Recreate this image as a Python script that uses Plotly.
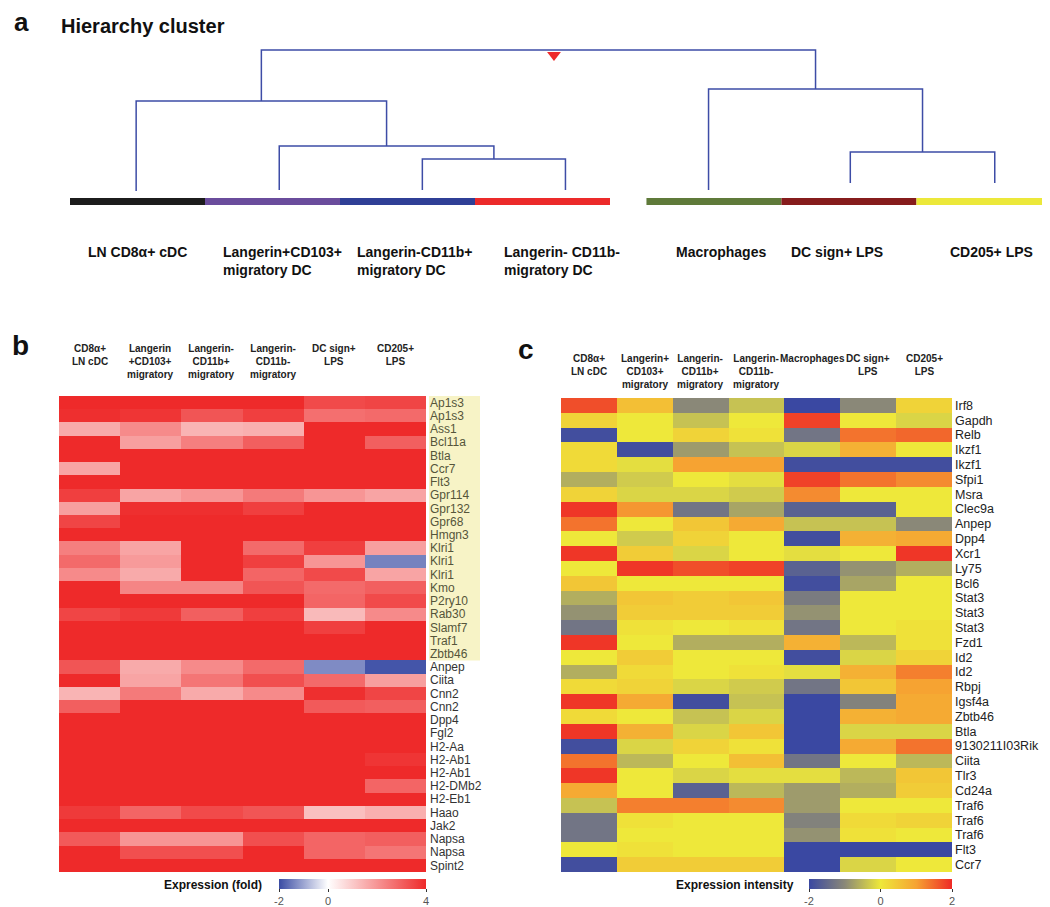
import plotly.graph_objects as go

W, H = 1050, 907
def fx(p):
    return p / W
def fy(p):
    return 1 - p / H

FONT = "Arial, Liberation Sans, sans-serif"

# ---------------- Panel a: hierarchy cluster ----------------
cell_types = ["LN CD8α+ cDC", "Langerin+CD103+ migratory DC", "Langerin-CD11b+ migratory DC",
              "Langerin- CD11b- migratory DC", "Macrophages", "DC sign+ LPS", "CD205+ LPS"]
leaf_pos = [0.49, 1.55, 2.61, 3.67, 4.73, 5.78, 6.85]
leaf_bottom = [1.05, 1.15, 1.15, 1.15, 1.15, 1.85, 1.85]
# (child a, child b, merge height); new nodes numbered from 7
merges = [(2, 3, 4.25), (1, 7, 5.55), (0, 8, 10.05), (5, 6, 4.95), (4, 10, 11.25), (9, 11, 15.15)]
bar_start = [0, 1, 2, 3, 4.27, 5.27, 6.27]
bar_width = 1.0
bar_colors = ["#1c1c1c", "#6a4c9c", "#2f3f96", "#ec2a2a", "#5f7a3a", "#861c1c", "#ece83a"]
cut_marker_x = [3.585]
cut_marker_h = [14.65]
a_label_text = ["LN CD8α+ cDC", "Langerin+CD103+<br>migratory DC", "Langerin-CD11b+<br>migratory DC",
                "Langerin- CD11b-<br>migratory DC", "Macrophages", "DC sign+ LPS", "CD205+ LPS"]
a_label_left_px = [78, 213, 347, 494, 666, 781, 940]

# ---------------- Panel b ----------------
b_columns = ["CD8α+<br>LN cDC", "Langerin<br>+CD103+<br>migratory", "Langerin-<br>CD11b+<br>migratory",
             "Langerin-<br>CD11b-<br>migratory", "DC sign+<br>LPS", "CD205+<br>LPS"]
b_genes = ["Ap1s3", "Ap1s3", "Ass1", "Bcl11a", "Btla", "Ccr7", "Flt3", "Gpr114", "Gpr132", "Gpr68",
           "Hmgn3", "Klri1", "Klri1", "Klri1", "Kmo", "P2ry10", "Rab30", "Slamf7", "Traf1", "Zbtb46",
           "Anpep", "Ciita", "Cnn2", "Cnn2", "Dpp4", "Fgl2", "H2-Aa", "H2-Ab1", "H2-Ab1", "H2-DMb2",
           "H2-Eb1", "Haao", "Jak2", "Napsa", "Napsa", "Spint2"]
b_highlighted = 20
b_values = [
    [4.0, 4.0, 4.0, 4.0, 3.4, 3.5],
    [3.9, 3.8, 3.2, 3.6, 2.7, 2.8],
    [1.6, 2.2, 1.4, 1.5, 4.0, 4.0],
    [4.0, 1.8, 2.4, 3.0, 4.0, 3.0],
    [4.0, 4.0, 4.0, 4.0, 4.0, 4.0],
    [1.7, 4.0, 4.0, 4.0, 4.0, 4.0],
    [4.0, 4.0, 4.0, 4.0, 4.0, 4.0],
    [3.6, 1.7, 2.0, 2.5, 2.0, 1.7],
    [1.8, 3.9, 3.9, 3.6, 4.0, 4.0],
    [3.5, 4.0, 4.0, 4.0, 4.0, 4.0],
    [4.0, 4.0, 4.0, 4.0, 4.0, 4.0],
    [2.4, 1.7, 4.0, 2.8, 3.6, 1.8],
    [2.8, 1.9, 4.0, 3.6, 2.0, -1.4],
    [2.2, 1.6, 4.0, 2.9, 3.4, 1.7],
    [4.0, 2.3, 2.3, 3.2, 2.8, 3.0],
    [4.0, 4.0, 4.0, 4.0, 2.9, 3.4],
    [3.5, 3.7, 3.0, 3.6, 1.3, 2.2],
    [4.0, 4.0, 4.0, 4.0, 3.6, 4.0],
    [4.0, 4.0, 4.0, 4.0, 4.0, 4.0],
    [4.0, 4.0, 4.0, 4.0, 4.0, 4.0],
    [3.2, 1.6, 2.2, 2.8, -1.3, -1.9],
    [4.0, 1.7, 2.6, 3.3, 2.8, 1.8],
    [1.4, 2.5, 1.6, 2.2, 3.9, 3.5],
    [3.0, 4.0, 4.0, 4.0, 3.1, 3.0],
    [4.0, 4.0, 4.0, 4.0, 4.0, 4.0],
    [4.0, 4.0, 4.0, 4.0, 4.0, 4.0],
    [4.0, 4.0, 4.0, 4.0, 4.0, 4.0],
    [4.0, 4.0, 4.0, 4.0, 4.0, 3.8],
    [4.0, 4.0, 4.0, 4.0, 4.0, 4.0],
    [4.0, 4.0, 4.0, 4.0, 4.0, 2.9],
    [4.0, 4.0, 4.0, 4.0, 4.0, 4.0],
    [3.7, 2.9, 3.4, 3.2, 1.2, 1.5],
    [4.0, 4.0, 4.0, 4.0, 4.0, 4.0],
    [3.1, 2.0, 2.0, 3.3, 2.9, 3.0],
    [4.0, 3.3, 3.3, 4.0, 2.9, 2.6],
    [4.0, 4.0, 4.0, 4.0, 4.0, 4.0],
]
b_ticks = [-2, 0, 4]
b_ticklabels = ["-2", "0", "4"]

# ---------------- Panel c ----------------
c_columns = ["CD8α+<br>LN cDC", "Langerin+<br>CD103+<br>migratory", "Langerin-<br>CD11b+<br>migratory",
             "Langerin-<br>CD11b-<br>migratory", "Macrophages", "DC sign+<br>LPS", "CD205+<br>LPS"]
c_genes = ["Irf8", "Gapdh", "Relb", "Ikzf1", "Ikzf1", "Sfpi1", "Msra", "Clec9a", "Anpep", "Dpp4",
           "Xcr1", "Ly75", "Bcl6", "Stat3", "Stat3", "Stat3", "Fzd1", "Id2", "Id2", "Rbpj", "Igsf4a",
           "Zbtb46", "Btla", "9130211I03Rik", "Ciita", "Tlr3", "Cd24a", "Traf6", "Traf6", "Traf6",
           "Flt3", "Ccr7"]
c_values = [
    [1.7, 0.6, -1.0, -0.4, -2.0, -1.0, 0.3],
    [0.3, 0.0, -0.4, 0.0, 1.8, 0.0, -0.2],
    [-1.9, 0.0, 0.3, 0.1, -1.3, 1.4, 1.5],
    [0.2, -1.9, -0.8, -0.4, -0.2, 0.8, 0.0],
    [0.2, -0.1, 1.0, 1.0, -1.9, -1.9, -1.9],
    [-0.6, -0.3, 0.0, -0.1, 1.8, 1.4, 1.2],
    [0.3, -0.2, -0.2, -0.3, 1.2, 0.0, 0.0],
    [1.9, 1.1, -1.3, -0.7, -1.6, -1.6, 0.0],
    [1.4, 0.0, 0.5, 0.9, -0.4, -0.4, -1.0],
    [0.0, -0.3, 0.3, 0.0, -1.9, 0.8, 0.9],
    [1.9, 0.4, -0.2, 0.0, -0.1, 0.0, 1.9],
    [0.0, 1.9, 1.7, 1.8, -1.6, -0.9, -0.6],
    [0.5, 0.0, 0.0, 0.0, -1.9, -0.7, 0.0],
    [-0.6, 0.5, 0.4, 0.5, -1.2, 0.0, 0.0],
    [-0.9, 0.4, 0.4, 0.4, -0.9, 0.0, 0.0],
    [-1.3, 0.1, 0.0, 0.1, -1.3, 0.0, 0.1],
    [1.9, 0.0, -0.6, -0.6, 0.8, -0.5, 0.1],
    [0.0, 0.4, 0.0, 0.0, -1.9, -0.2, 0.3],
    [-0.6, 0.2, 0.0, 0.1, -0.1, 0.8, 1.3],
    [0.2, 0.3, -0.2, -0.3, -1.3, 0.5, 1.0],
    [1.9, 0.9, -1.9, -0.4, -2.0, -1.1, 0.9],
    [0.2, 0.0, -0.4, -0.2, -2.0, 0.8, 0.9],
    [1.9, 0.8, -0.2, 0.5, -2.0, -0.2, -0.2],
    [-1.9, -0.2, 0.3, 0.1, -2.0, 0.9, 1.4],
    [1.4, -0.5, 0.0, 0.6, -1.3, 0.0, -0.5],
    [1.9, 0.0, -0.2, -0.1, -0.1, -0.5, 0.5],
    [0.9, 0.0, -1.6, -0.5, -0.8, -0.6, 0.4],
    [-0.4, 1.3, 1.3, 1.2, -0.8, 0.0, 0.0],
    [-1.3, 0.1, 0.0, 0.0, -1.1, 0.2, 0.3],
    [-1.3, 0.0, 0.0, 0.0, -0.9, 0.1, 0.0],
    [0.0, 0.1, 0.0, 0.0, -2.0, -2.0, -2.0],
    [-1.9, 0.4, 0.4, 0.4, -2.0, -0.2, 0.0],
]
c_ticks = [-2, 0, 2]
c_ticklabels = ["-2", "0", "2"]

b_scale = [[0.0, "#3a4ca4"], [1 / 3, "#ffffff"], [1.0, "#ee2a2a"]]
c_scale = [[0.0, "#3a48a2"], [0.25, "#8a8878"], [0.5, "#eee83a"], [0.75, "#f6a332"], [1.0, "#ee2a26"]]

CB_TOP = 871

fig = go.Figure()

# ---- dendrogram ----
node_x = list(leaf_pos)
node_y = list(leaf_bottom)
lx, ly = [], []
for a, b, h in merges:
    lx += [node_x[a], node_x[a], node_x[b], node_x[b], None]
    ly += [node_y[a], h, h, node_y[b], None]
    node_x.append((node_x[a] + node_x[b]) / 2)
    node_y.append(h)
fig.add_trace(go.Scatter(x=lx, y=ly, mode="lines", line=dict(color="#3d4ca6", width=1.5),
                         xaxis="x3", yaxis="y3", hoverinfo="skip", showlegend=False))
for s, col in zip(bar_start, bar_colors):
    fig.add_trace(go.Scatter(x=[s, s + bar_width], y=[0, 0], mode="lines",
                             line=dict(color=col, width=7), xaxis="x3", yaxis="y3",
                             hoverinfo="skip", showlegend=False))
fig.add_trace(go.Scatter(x=cut_marker_x, y=cut_marker_h, mode="markers",
                         marker=dict(symbol="triangle-down", size=12, color="#ee2a2a"),
                         xaxis="x3", yaxis="y3", hoverinfo="skip", showlegend=False))

# ---- heatmap b ----
fig.add_trace(go.Heatmap(
    z=b_values, x=list(range(len(b_columns))), y=list(range(len(b_genes))),
    colorscale=b_scale, zmin=-2, zmax=4, xaxis="x", yaxis="y",
    colorbar=dict(orientation="h", x=fx((271 + 418) / 2), xanchor="center", y=fy(CB_TOP), yanchor="top",
                  len=(418 - 271) / W, lenmode="fraction", thickness=10, thicknessmode="pixels",
                  tickvals=b_ticks, ticktext=b_ticklabels, ticks="outside", ticklen=3, tickcolor="#333",
                  tickfont=dict(size=11, color="#555", family=FONT), outlinewidth=0, xpad=0, ypad=0),
))

# ---- heatmap c ----
fig.add_trace(go.Heatmap(
    z=c_values, x=list(range(len(c_columns))), y=list(range(len(c_genes))),
    colorscale=c_scale, zmin=-2, zmax=2, xaxis="x2", yaxis="y2",
    colorbar=dict(orientation="h", x=fx((801 + 944) / 2), xanchor="center", y=fy(CB_TOP), yanchor="top",
                  len=(944 - 801) / W, lenmode="fraction", thickness=10, thicknessmode="pixels",
                  tickvals=c_ticks, ticktext=c_ticklabels, ticks="outside", ticklen=3, tickcolor="#333",
                  tickfont=dict(size=11, color="#555", family=FONT), outlinewidth=0, xpad=0, ypad=0),
))

b_ticktext = [
    (f'<span style="color:#55553a">{g}</span>' if i < b_highlighted else g)
    for i, g in enumerate(b_genes)
]

hidden = dict(showgrid=False, zeroline=False, showticklabels=False, ticks="", showline=False)

fig.update_layout(
    width=W, height=H, margin=dict(l=0, r=0, t=0, b=0),
    paper_bgcolor="white", plot_bgcolor="white",
    font=dict(family=FONT, color="#222"),
    showlegend=False,
    xaxis=dict(domain=[fx(51), fx(418)], range=[-0.5, len(b_columns) - 0.5], **hidden),
    yaxis=dict(domain=[fy(864), fy(388)], range=[len(b_genes) - 0.5, -0.5], side="right",
               tickvals=list(range(len(b_genes))), ticktext=b_ticktext, ticks="",
               tickfont=dict(size=12, color="#333", family=FONT), ticklabelstandoff=3,
               showgrid=False, zeroline=False, showline=False),
    xaxis2=dict(domain=[fx(553), fx(944)], range=[-0.5, len(c_columns) - 0.5], anchor="y2", **hidden),
    yaxis2=dict(domain=[fy(864), fy(390)], range=[len(c_genes) - 0.5, -0.5], side="right",
                tickvals=list(range(len(c_genes))), ticktext=c_genes, ticks="",
                tickfont=dict(size=12.5, color="#222", family=FONT), ticklabelstandoff=2,
                showgrid=False, zeroline=False, showline=False, anchor="x2"),
    xaxis3=dict(domain=[0, 1], range=[-62 / 135, 988 / 135], anchor="y3", **hidden),
    yaxis3=dict(domain=[fy(290), 1], range=[(193.5 - 290) / 10, 193.5 / 10], anchor="x3", **hidden),
)

# highlight behind first gene labels in panel b
fig.add_shape(type="rect", xref="paper", yref="y", x0=fx(421), x1=fx(472),
              y0=-0.5, y1=b_highlighted - 0.5, fillcolor="#f7f3c6", line=dict(width=0), layer="below")

ann = []
# panel letters and title
ann.append(dict(text="a", x=fx(4), y=fy(-3), xanchor="left", yanchor="top",
                font=dict(size=26, weight="bold", color="#111")))
ann.append(dict(text="Hierarchy cluster", x=fx(51), y=fy(18), xanchor="left", yanchor="middle",
                font=dict(size=20, weight="bold", color="#111")))
ann.append(dict(text="b", x=fx(2), y=fy(338), xanchor="left", yanchor="middle",
                font=dict(size=28, weight="bold", color="#111")))
ann.append(dict(text="c", x=fx(508), y=fy(341), xanchor="left", yanchor="middle",
                font=dict(size=28, weight="bold", color="#111")))
# panel a labels
for t, lp in zip(a_label_text, a_label_left_px):
    ann.append(dict(text=t, x=fx(lp), y=fy(234), xanchor="left", yanchor="top", align="left",
                    font=dict(size=14, weight="bold", color="#111")))
# column headers
for i, t in enumerate(b_columns):
    ann.append(dict(text=t, x=i, xref="x", y=fy(333), yanchor="top", xanchor="center", align="center",
                    font=dict(size=10, weight="bold", color="#222")))
for i, t in enumerate(c_columns):
    ann.append(dict(text=t, x=i, xref="x2", y=fy(343), yanchor="top", xanchor="center", align="center",
                    font=dict(size=10, weight="bold", color="#222")))
# colorbar titles
ann.append(dict(text="Expression (fold)", x=fx(256), y=fy(CB_TOP + 6), xanchor="right", yanchor="middle",
                font=dict(size=12, weight="bold", color="#111")))
ann.append(dict(text="Expression intensity", x=fx(788), y=fy(CB_TOP + 6), xanchor="right", yanchor="middle",
                font=dict(size=12, weight="bold", color="#111")))

for a in ann:
    a.setdefault("xref", "paper")
    a.setdefault("yref", "paper")
    a["showarrow"] = False
    a["font"].setdefault("family", FONT)
fig.update_layout(annotations=ann)

fig.write_html("out.html")
